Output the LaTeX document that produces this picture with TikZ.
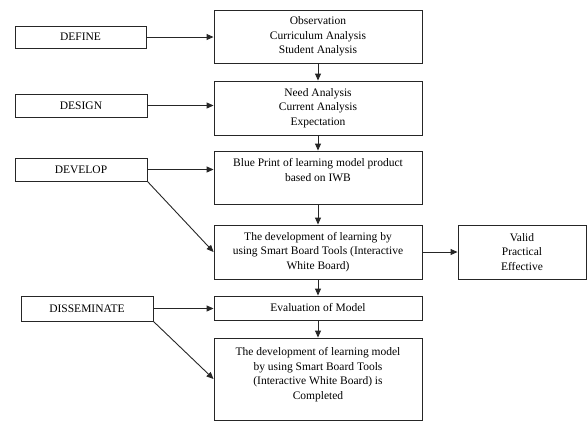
\documentclass[tikz,border=0pt]{standalone}
\usepackage{fontspec}
\setmainfont{Liberation Serif}
\usetikzlibrary{arrows.meta}
\tikzset{
  box/.style={draw=black!85, line width=0.9pt, inner sep=0pt, align=center},
  txt/.style={inner sep=0pt, align=center},
  conn/.style={draw=black!85, line width=0.9pt, -{Triangle[length=7pt,width=6pt]}},
}
\begin{document}
\begin{tikzpicture}[x=1pt,y=-1pt, font=\fontsize{11.5}{14.5}\selectfont]
\useasboundingbox (0,0) rectangle (587,421);
% left stage boxes
\node[box, minimum width=131, minimum height=22] (define) at (80.5,37) {DEFINE};
\node[box, minimum width=132, minimum height=23] (design) at (81,105.5) {DESIGN};
\node[box, minimum width=132, minimum height=23] (develop) at (81,169.5) {DEVELOP};
\node[box, minimum width=132, minimum height=25] (dissem) at (87,308.5) {DISSEMINATE};
% main column
\node[box, minimum width=208, minimum height=53] (obs) at (318,36.5) {Observation\\Curriculum Analysis\\Student Analysis};
\node[box, minimum width=208, minimum height=54] (need) at (318,108) {Need Analysis\\Current Analysis\\Expectation};
\node[box, minimum width=208, minimum height=53] (blue) at (318,177.5) {};
\node[txt, anchor=north] (bluetxt) at ([yshift=-8]blue.north) {Blue Print of learning model product\\based on IWB};
\node[box, minimum width=208, minimum height=54] (dev) at (318,252) {The development of learning by\\using Smart Board Tools (Interactive\\White Board)};
\node[box, minimum width=208, minimum height=24] (eval) at (318,308) {Evaluation of Model};
\node[box, minimum width=208, minimum height=82] (final) at (318,379) {};
\node[txt, anchor=north] (finaltxt) at ([yshift=-10]final.north) {The development of learning model\\by using Smart Board Tools\\(Interactive White Board) is\\Completed};
\node[box, minimum width=128, minimum height=54] (valid) at (522,252) {Valid\\Practical\\Effective};
% connectors
\draw[conn] (define.east) -- (define.east -| obs.west);
\draw[conn] (design.east) -- (design.east -| need.west);
\draw[conn] (develop.east) -- (develop.east -| blue.west);
\draw[conn] (develop.south east) -- (dev.west);
\draw[conn] (dissem.east) -- (dissem.east -| eval.west);
\draw[conn] (dissem.south east) -- (final.west);
\draw[conn] (obs.south) -- (need.north);
\draw[conn] (need.south) -- (blue.north);
\draw[conn] (blue.south) -- (dev.north);
\draw[conn] (dev.south) -- (eval.north);
\draw[conn] (eval.south) -- (final.north);
\draw[conn] (dev.east) -- (valid.west);
\end{tikzpicture}
\end{document}
